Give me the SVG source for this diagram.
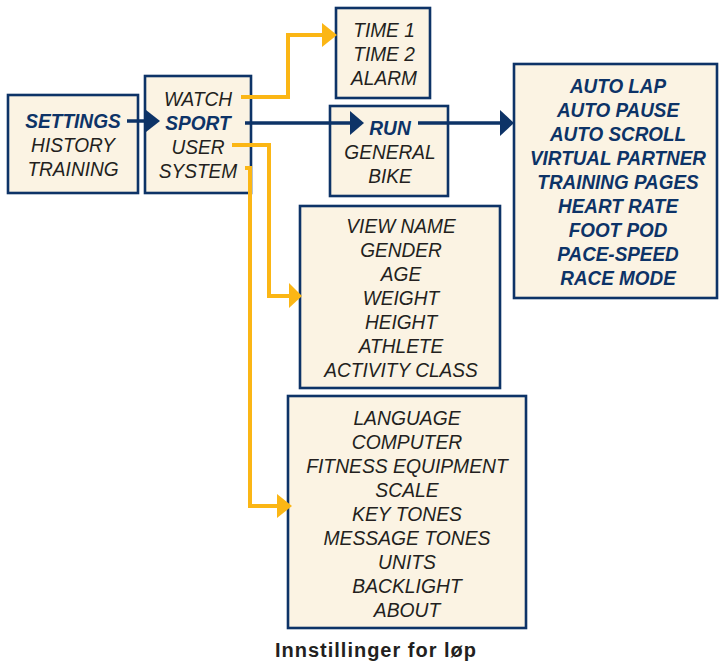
<svg xmlns="http://www.w3.org/2000/svg" width="719" height="662" viewBox="0 0 719 662">
<style>
.box{fill:#fbf3e3;stroke:#0d3367;stroke-width:2.6}
.t{font-family:"Liberation Sans",Arial,sans-serif;font-style:italic;font-size:21px;fill:#231f20;text-anchor:middle}
.b{font-weight:bold;fill:#0d3367}
.nav{fill:none;stroke:#0d3367;stroke-width:3.5}
.org{fill:none;stroke:#fbb615;stroke-width:4}
.cap{font-family:"Liberation Sans",Arial,sans-serif;font-weight:bold;font-size:20px;fill:#231f20;text-anchor:middle;letter-spacing:1px}
</style>
<rect width="719" height="662" fill="#ffffff"/>
<g id="settings">
<rect class="box" x="8" y="95" width="130" height="98"/>
<g transform="translate(73,0) scale(0.91,1)">
<text class="t b" x="0" y="128">SETTINGS</text>
<text class="t" x="0" y="152">HISTORY</text>
<text class="t" x="0" y="176">TRAINING</text>
</g>
</g>
<g id="menu">
<rect class="box" x="145" y="76" width="106" height="117"/>
<g transform="translate(198,0) scale(0.91,1)">
<text class="t" x="0" y="106">WATCH</text>
<text class="t b" x="0" y="130">SPORT</text>
<text class="t" x="0" y="154">USER</text>
<text class="t" x="0" y="178">SYSTEM</text>
</g>
</g>
<g id="watch">
<rect class="box" x="336" y="8" width="94" height="90"/>
<g transform="translate(384,0) scale(0.91,1)">
<text class="t" x="0" y="37">TIME 1</text>
<text class="t" x="0" y="61">TIME 2</text>
<text class="t" x="0" y="85">ALARM</text>
</g>
</g>
<g id="sport">
<rect class="box" x="330" y="106" width="118" height="90"/>
<g transform="translate(390,0) scale(0.91,1)">
<text class="t b" x="0" y="135">RUN</text>
<text class="t" x="0" y="159">GENERAL</text>
<text class="t" x="0" y="183">BIKE</text>
</g>
</g>
<g id="run">
<rect class="box" x="514" y="64" width="203" height="234"/>
<g transform="translate(618,0) scale(0.9,1)">
<text class="t b" x="0" y="93">AUTO LAP</text>
<text class="t b" x="0" y="117">AUTO PAUSE</text>
<text class="t b" x="0" y="141">AUTO SCROLL</text>
<text class="t b" x="0" y="165">VIRTUAL PARTNER</text>
<text class="t b" x="0" y="189">TRAINING PAGES</text>
<text class="t b" x="0" y="213">HEART RATE</text>
<text class="t b" x="0" y="237">FOOT POD</text>
<text class="t b" x="0" y="261">PACE-SPEED</text>
<text class="t b" x="0" y="285">RACE MODE</text>
</g>
</g>
<g id="user">
<rect class="box" x="300" y="206" width="200" height="182"/>
<g transform="translate(401,0) scale(0.91,1)">
<text class="t" x="0" y="233">VIEW NAME</text>
<text class="t" x="0" y="257">GENDER</text>
<text class="t" x="0" y="281">AGE</text>
<text class="t" x="0" y="305">WEIGHT</text>
<text class="t" x="0" y="329">HEIGHT</text>
<text class="t" x="0" y="353">ATHLETE</text>
<text class="t" x="0" y="377">ACTIVITY CLASS</text>
</g>
</g>
<g id="system">
<rect class="box" x="288" y="396" width="238" height="232"/>
<g transform="translate(407,0) scale(0.92,1)">
<text class="t" x="0" y="425">LANGUAGE</text>
<text class="t" x="0" y="449">COMPUTER</text>
<text class="t" x="0" y="473">FITNESS EQUIPMENT</text>
<text class="t" x="0" y="497">SCALE</text>
<text class="t" x="0" y="521">KEY TONES</text>
<text class="t" x="0" y="545">MESSAGE TONES</text>
<text class="t" x="0" y="569">UNITS</text>
<text class="t" x="0" y="593">BACKLIGHT</text>
<text class="t" x="0" y="617">ABOUT</text>
</g>
</g>
<g id="connectors">
<path class="nav" d="M127 121H148"/>
<polygon fill="#0d3367" points="146,110 160,121 146,132"/>
<path class="nav" d="M245 123H352"/>
<polygon fill="#0d3367" points="350,111 364,123 350,135"/>
<path class="nav" d="M418 123H502"/>
<polygon fill="#0d3367" points="500,110 514,123 500,136"/>
<path class="org" d="M241 97H288V35H324"/>
<polygon fill="#fbb615" points="322,23 337,35 322,47"/>
<path class="org" d="M232 145H269V296H291"/>
<polygon fill="#fbb615" points="289,283 302,296 289,308"/>
<path class="org" d="M245 168H250V506H279"/>
<polygon fill="#fbb615" points="277,494 292,506 277,518"/>
</g>
<text class="cap" x="376" y="657">Innstillinger for løp</text>
</svg>
